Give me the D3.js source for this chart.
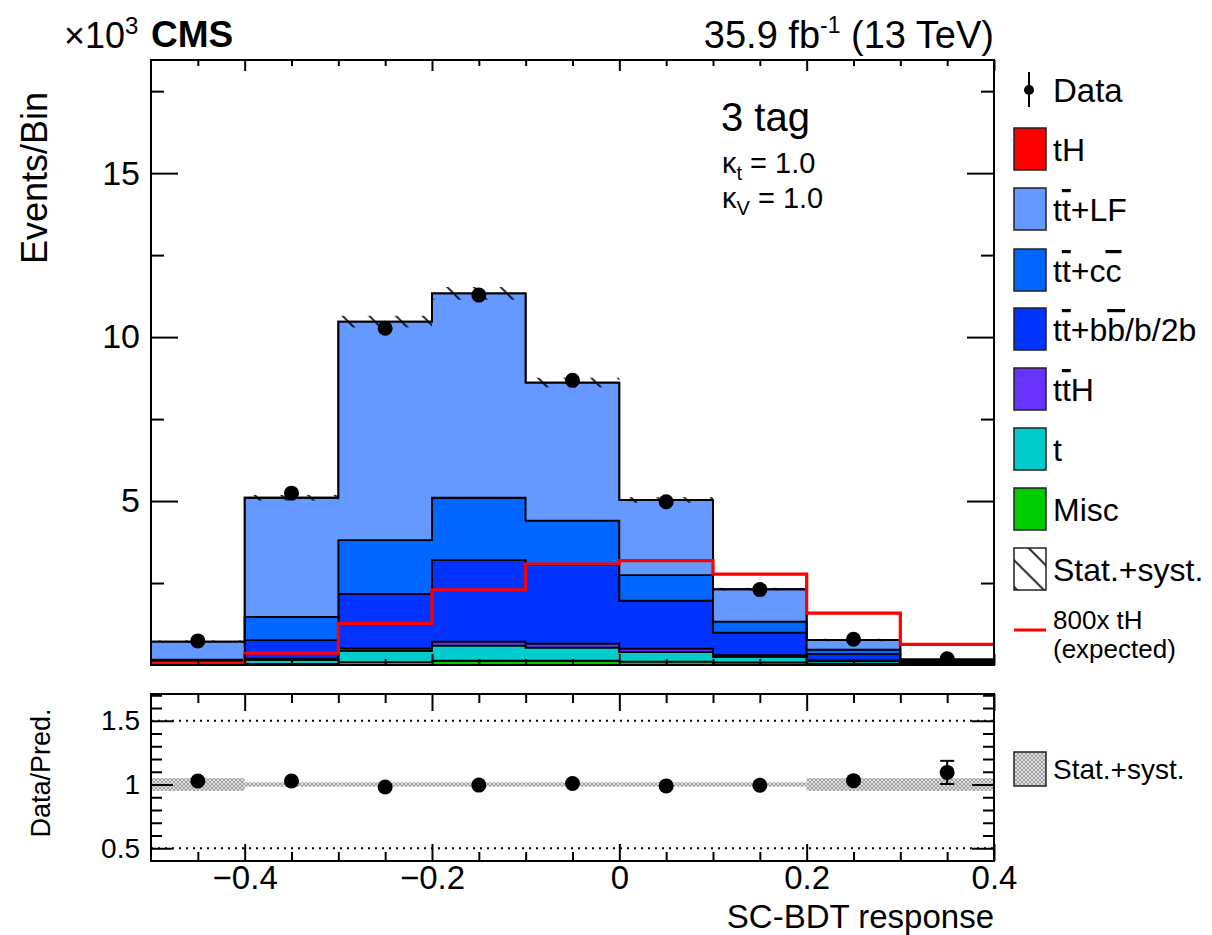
<!DOCTYPE html>
<html>
<head>
<meta charset="utf-8">
<script src="https://cdn.jsdelivr.net/npm/d3@7"></script>
<style>
  html, body { margin: 0; padding: 0; background: #fff; }
  svg { display: block; font-family: "Liberation Sans", Arial, Helvetica, sans-serif; }
</style>
</head>
<body>
<svg id="chart" width="1212" height="935"></svg>
<script>
// SC-BDT response, 3 tag category, events in units of 10^3 per bin
const binEdges = [-0.5, -0.4, -0.3, -0.2, -0.1, 0.0, 0.1, 0.2, 0.3, 0.4];

const misc   = [0.01, 0.03, 0.09, 0.13, 0.13, 0.10, 0.08, 0.04, 0.02];
const tChan  = [0.04, 0.13, 0.34, 0.46, 0.40, 0.29, 0.17, 0.08, 0.03];
const ttH    = [0.005, 0.03, 0.08, 0.12, 0.12, 0.11, 0.05, 0.02, 0.01];
const ttbb   = [0.06, 0.57, 1.66, 2.49, 2.40, 1.46, 0.69, 0.20, 0.05];
const ttcc   = [0.05, 0.71, 1.64, 1.90, 1.35, 0.78, 0.33, 0.13, 0.02];
const ttLF   = [0.55, 3.63, 6.66, 6.23, 4.21, 2.29, 0.99, 0.29, 0.04];
const tH     = [0.0001, 0.0005, 0.0016, 0.0029, 0.0039, 0.0040, 0.0035, 0.0020, 0.0008];

// tH signal scaled by 800 (expected)
const tHx800 = [0.055, 0.36, 1.27, 2.29, 3.08, 3.18, 2.77, 1.58, 0.63];

// observed data and its uncertainty
const dataVals = [0.735, 5.24, 10.27, 11.28, 8.68, 4.98, 2.30, 0.785, 0.187];
const dataErr  = [0.027, 0.072, 0.101, 0.106, 0.093, 0.071, 0.048, 0.028, 0.0155];

// relative stat.+syst. uncertainty of the prediction
const relUnc = [0.05, 0.017, 0.017, 0.017, 0.017, 0.017, 0.017, 0.05, 0.05];

const mainYTicks = [5, 10, 15];
const mainYMinor = [2.5, 7.5, 12.5, 17.5];
const xMajorTicks = [-0.4, -0.2, 0, 0.2, 0.4];
const xMinorTicks = [-0.45, -0.35, -0.3, -0.25, -0.15, -0.1, -0.05, 0.05, 0.1, 0.15, 0.25, 0.3, 0.35];
const ratioYTicks = [0.5, 1, 1.5];
const ratioYMinor = [0.6, 0.7, 0.8, 0.9, 1.1, 1.2, 1.3, 1.4, 1.6, 1.7];

const processes = [
  { key: "misc", vals: misc,  color: "#00cc00" },
  { key: "t",    vals: tChan, color: "#00cccc" },
  { key: "ttH",  vals: ttH,   color: "#6633ff" },
  { key: "ttbb", vals: ttbb,  color: "#0033ff" },
  { key: "ttcc", vals: ttcc,  color: "#0066ff" },
  { key: "ttLF", vals: ttLF,  color: "#6699ff" },
  { key: "tH",   vals: tH,    color: "#ff0000" }
];

const W = 1212, H = 935;
const L = 151, R = 994;
const mainTop = 60, mainBot = 665;
const ratTop = 694, ratBot = 861;
const dotR = 7.5;

const svg = d3.select("#chart");
svg.append("rect").attr("width", W).attr("height", H).attr("fill", "#fff");

const x = d3.scaleLinear().domain([-0.5, 0.4]).range([L, R]);
const y = d3.scaleLinear().domain([0, 18.45]).range([mainBot, mainTop]);
const yr = d3.scaleLinear().domain([0.4, 1.71]).range([ratBot, ratTop]);

const defs = svg.append("defs");
// single-direction hatching for the prediction band
const hs = 26.7;
defs.append("pattern").attr("id", "hatch").attr("patternUnits", "userSpaceOnUse")
  .attr("width", hs).attr("height", hs)
  .append("path")
  .attr("d", `M-3,-3L${hs + 3},${hs + 3}M-3,${hs - 3}L3,${hs + 3}M${hs - 3},-3L${hs + 3},3`)
  .attr("stroke", "#000").attr("stroke-width", 1.6);
// fine grey cross-hatch for the ratio band
const cp = defs.append("pattern").attr("id", "xhatch").attr("patternUnits", "userSpaceOnUse")
  .attr("width", 4).attr("height", 4);
cp.append("rect").attr("width", 4).attr("height", 4).attr("fill", "#dedede");
cp.append("path").attr("d", "M0,0L4,4M4,0L0,4").attr("stroke", "#909090").attr("stroke-width", 0.8);

defs.append("clipPath").attr("id", "clipMain").append("rect")
  .attr("x", L).attr("y", mainTop).attr("width", R - L).attr("height", mainBot - mainTop);
defs.append("clipPath").attr("id", "clipRatio").append("rect")
  .attr("x", L).attr("y", ratTop).attr("width", R - L).attr("height", ratBot - ratTop);

// ---------- stacked prediction ----------
const nBins = binEdges.length - 1;
const rows = d3.range(nBins).map(i => {
  const r = {};
  processes.forEach(p => r[p.key] = p.vals[i]);
  return r;
});
const stacked = d3.stack().keys(processes.map(p => p.key))(rows);
const totals = rows.map(r => d3.sum(processes, p => r[p.key]));

function stepPoints(layer) {
  const pts = layer.map((d, i) => ({ x: binEdges[i], y0: d[0], y1: d[1] }));
  const last = layer[layer.length - 1];
  pts.push({ x: binEdges[binEdges.length - 1], y0: last[0], y1: last[1] });
  return pts;
}

const area = d3.area()
  .x(d => x(d.x)).y0(d => y(d.y0)).y1(d => y(d.y1))
  .curve(d3.curveStepAfter);

const gMain = svg.append("g").attr("clip-path", "url(#clipMain)");
stacked.forEach((layer, k) => {
  gMain.append("path")
    .attr("d", area(stepPoints(layer)))
    .attr("fill", processes[k].color)
    .attr("stroke", "#000")
    .attr("stroke-width", 1.8)
    .attr("stroke-linejoin", "miter");
});

// prediction uncertainty band
gMain.selectAll("rect.unc").data(d3.range(nBins)).join("rect")
  .attr("class", "unc")
  .attr("x", i => x(binEdges[i]))
  .attr("width", i => x(binEdges[i + 1]) - x(binEdges[i]))
  .attr("y", i => y(totals[i] * (1 + relUnc[i])))
  .attr("height", i => y(totals[i] * (1 - relUnc[i])) - y(totals[i] * (1 + relUnc[i])))
  .attr("fill", "url(#hatch)");

// 800x tH expected
const sigPts = tHx800.map((v, i) => [binEdges[i], v]);
sigPts.push([binEdges[nBins], tHx800[nBins - 1]]);
gMain.append("path")
  .attr("d", d3.line().x(d => x(d[0])).y(d => y(d[1])).curve(d3.curveStepAfter)(sigPts))
  .attr("fill", "none").attr("stroke", "#ff0000").attr("stroke-width", 3.2);

// data points; error bars only where they reach beyond the marker
const centers = d3.range(nBins).map(i => (binEdges[i] + binEdges[i + 1]) / 2);
function drawPoint(g, cx, cy, top, bot, caps) {
  if (cy - top > dotR) {
    g.append("line").attr("x1", cx).attr("x2", cx).attr("y1", top).attr("y2", bot)
      .attr("stroke", "#000").attr("stroke-width", 2);
    if (caps) {
      [top, bot].forEach(yy => g.append("line")
        .attr("x1", cx - 7).attr("x2", cx + 7).attr("y1", yy).attr("y2", yy)
        .attr("stroke", "#000").attr("stroke-width", 2));
    }
  }
  g.append("circle").attr("cx", cx).attr("cy", cy).attr("r", dotR).attr("fill", "#000");
}
d3.range(nBins).forEach(i => {
  drawPoint(gMain, x(centers[i]), y(dataVals[i]),
    y(dataVals[i] + dataErr[i]), y(dataVals[i] - dataErr[i]), false);
});

// ---------- ratio panel ----------
const gRat = svg.append("g").attr("clip-path", "url(#clipRatio)");
gRat.selectAll("rect.rband").data(d3.range(nBins)).join("rect")
  .attr("x", i => x(binEdges[i]))
  .attr("width", i => x(binEdges[i + 1]) - x(binEdges[i]))
  .attr("y", i => yr(1 + relUnc[i]))
  .attr("height", i => yr(1 - relUnc[i]) - yr(1 + relUnc[i]))
  .attr("fill", "url(#xhatch)");

[0.5, 1.5].forEach(v => {
  gRat.append("line").attr("x1", L).attr("x2", R).attr("y1", yr(v)).attr("y2", yr(v))
    .attr("stroke", "#000").attr("stroke-width", 2).attr("stroke-dasharray", "2,5");
});

const ratio = d3.range(nBins).map(i => dataVals[i] / totals[i]);
const ratioErr = d3.range(nBins).map(i => dataErr[i] / totals[i]);
d3.range(nBins).forEach(i => {
  drawPoint(gRat, x(centers[i]), yr(ratio[i]),
    yr(ratio[i] + ratioErr[i]), yr(ratio[i] - ratioErr[i]), true);
});

// ---------- axes ----------
function styleAxis(g, fontSize) {
  g.select(".domain").remove();
  g.selectAll(".tick line").attr("stroke", "#000").attr("stroke-width", 2);
  g.selectAll(".tick text").attr("fill", "#000").attr("font-size", fontSize)
    .attr("font-family", "'Liberation Sans', Arial, Helvetica, sans-serif");
}
const noLabel = () => "";

// main panel
styleAxis(svg.append("g").attr("transform", `translate(${L},0)`)
  .call(d3.axisLeft(y).tickValues(mainYTicks).tickSize(-27).tickPadding(11).tickFormat(d3.format("d"))), 34);
styleAxis(svg.append("g").attr("transform", `translate(${L},0)`)
  .call(d3.axisLeft(y).tickValues(mainYMinor).tickSize(-13).tickFormat(noLabel)), 0);
styleAxis(svg.append("g").attr("transform", `translate(${R},0)`)
  .call(d3.axisRight(y).tickValues(mainYTicks).tickSize(-27).tickFormat(noLabel)), 0);
styleAxis(svg.append("g").attr("transform", `translate(${R},0)`)
  .call(d3.axisRight(y).tickValues(mainYMinor).tickSize(-13).tickFormat(noLabel)), 0);
styleAxis(svg.append("g").attr("transform", `translate(0,${mainTop})`)
  .call(d3.axisTop(x).tickValues(xMajorTicks).tickSize(-11).tickFormat(noLabel)), 0);
styleAxis(svg.append("g").attr("transform", `translate(0,${mainTop})`)
  .call(d3.axisTop(x).tickValues(xMinorTicks).tickSize(-6).tickFormat(noLabel)), 0);
styleAxis(svg.append("g").attr("transform", `translate(0,${mainBot})`)
  .call(d3.axisBottom(x).tickValues(xMajorTicks).tickSize(-11).tickFormat(noLabel)), 0);
styleAxis(svg.append("g").attr("transform", `translate(0,${mainBot})`)
  .call(d3.axisBottom(x).tickValues(xMinorTicks).tickSize(-6).tickFormat(noLabel)), 0);

// ratio panel
const xFmt = d => d === 0 ? "0" : d3.format(".1f")(d);
styleAxis(svg.append("g").attr("transform", `translate(${L},0)`)
  .call(d3.axisLeft(yr).tickValues(ratioYTicks).tickSize(-22).tickPadding(11).tickFormat(d => String(d))), 28);
styleAxis(svg.append("g").attr("transform", `translate(${L},0)`)
  .call(d3.axisLeft(yr).tickValues(ratioYMinor).tickSize(-11).tickFormat(noLabel)), 0);
styleAxis(svg.append("g").attr("transform", `translate(${R},0)`)
  .call(d3.axisRight(yr).tickValues(ratioYTicks).tickSize(-22).tickFormat(noLabel)), 0);
styleAxis(svg.append("g").attr("transform", `translate(${R},0)`)
  .call(d3.axisRight(yr).tickValues(ratioYMinor).tickSize(-11).tickFormat(noLabel)), 0);
styleAxis(svg.append("g").attr("transform", `translate(0,${ratTop})`)
  .call(d3.axisTop(x).tickValues(xMajorTicks).tickSize(-17).tickFormat(noLabel)), 0);
styleAxis(svg.append("g").attr("transform", `translate(0,${ratTop})`)
  .call(d3.axisTop(x).tickValues(xMinorTicks).tickSize(-9).tickFormat(noLabel)), 0);
styleAxis(svg.append("g").attr("transform", `translate(0,${ratBot})`)
  .call(d3.axisBottom(x).tickValues(xMajorTicks).tickSize(-17).tickPadding(5).tickFormat(xFmt)), 33);
styleAxis(svg.append("g").attr("transform", `translate(0,${ratBot})`)
  .call(d3.axisBottom(x).tickValues(xMinorTicks).tickSize(-9).tickFormat(noLabel)), 0);

// frames
svg.append("rect").attr("x", L).attr("y", mainTop).attr("width", R - L).attr("height", mainBot - mainTop)
  .attr("fill", "none").attr("stroke", "#000").attr("stroke-width", 2);
svg.append("rect").attr("x", L).attr("y", ratTop).attr("width", R - L).attr("height", ratBot - ratTop)
  .attr("fill", "none").attr("stroke", "#000").attr("stroke-width", 2);

// ---------- titles and labels ----------
svg.append("text").attr("transform", "translate(47,178) rotate(-90)")
  .attr("text-anchor", "middle").attr("font-size", 36).text("Events/Bin");
svg.append("text").attr("transform", "translate(50,773) rotate(-90)")
  .attr("text-anchor", "middle").attr("font-size", 27).text("Data/Pred.");
svg.append("text").attr("x", R).attr("y", 928).attr("text-anchor", "end")
  .attr("font-size", 33).text("SC-BDT response");

const mult = svg.append("text").attr("x", 64).attr("y", 48).attr("font-size", 36);
mult.append("tspan").text("\u00d710");
mult.append("tspan").attr("dy", -14).attr("font-size", 24).text("3");

svg.append("text").attr("x", 151).attr("y", 47).attr("font-size", 37)
  .attr("font-weight", "bold").text("CMS");

const lumi = svg.append("text").attr("x", R).attr("y", 48).attr("text-anchor", "end").attr("font-size", 38);
lumi.append("tspan").text("35.9 fb");
lumi.append("tspan").attr("dy", -15).attr("font-size", 23).text("-1");
lumi.append("tspan").attr("dy", 15).text(" (13 TeV)");

svg.append("text").attr("x", 721).attr("y", 131).attr("font-size", 40).text("3 tag");
function kappa(yb, sub) {
  const t = svg.append("text").attr("x", 722).attr("y", yb).attr("font-size", 29);
  t.append("tspan").text("\u03ba");
  t.append("tspan").attr("dy", 7).attr("font-size", 20).text(sub);
  t.append("tspan").attr("dy", -7).text(" = 1.0");
}
kappa(173, "t");
kappa(208, "V");

// ---------- legend ----------
const lgX = 1014, lgW = 32, lgH = 42, txtX = 1053;
const lg = svg.append("g");

// data marker
lg.append("line").attr("x1", 1029).attr("x2", 1029).attr("y1", 72).attr("y2", 107)
  .attr("stroke", "#000").attr("stroke-width", 2);
lg.append("circle").attr("cx", 1029).attr("cy", 90).attr("r", 5).attr("fill", "#000");
lg.append("text").attr("x", txtX).attr("y", 102).attr("font-size", 33).text("Data");

// legend labels with overlines on anti-quarks
function ovl(t, s) { t.append("tspan").attr("text-decoration", "overline").text(s); }
const legendItems = [
  { cy: 149, color: "#ff0000", build: t => t.text("tH") },
  { cy: 209, color: "#6699ff", build: t => { t.append("tspan").text("t"); ovl(t, "t"); t.append("tspan").text("+LF"); } },
  { cy: 270, color: "#0066ff", build: t => { t.append("tspan").text("t"); ovl(t, "t"); t.append("tspan").text("+c"); ovl(t, "c"); } },
  { cy: 329, color: "#0033ff", build: t => { t.append("tspan").text("t"); ovl(t, "t"); t.append("tspan").text("+b"); ovl(t, "b"); t.append("tspan").text("/b/2b"); } },
  { cy: 389, color: "#6633ff", build: t => { t.append("tspan").text("t"); ovl(t, "t"); t.append("tspan").text("H"); } },
  { cy: 449, color: "#00cccc", build: t => t.text("t") },
  { cy: 509, color: "#00cc00", build: t => t.text("Misc") },
  { cy: 569, color: "url(#hatch)", build: t => t.text("Stat.+syst."), white: true }
];
legendItems.forEach(it => {
  if (it.white) {
    lg.append("rect").attr("x", lgX).attr("y", it.cy - lgH / 2).attr("width", lgW).attr("height", lgH).attr("fill", "#fff");
  }
  lg.append("rect").attr("x", lgX).attr("y", it.cy - lgH / 2).attr("width", lgW).attr("height", lgH)
    .attr("fill", it.color).attr("stroke", "#222").attr("stroke-width", 1.5);
  const t = lg.append("text").attr("x", txtX).attr("y", it.cy + 12).attr("font-size", 32);
  it.build(t);
});

lg.append("line").attr("x1", 1014).attr("x2", 1046).attr("y1", 630).attr("y2", 630)
  .attr("stroke", "#ff0000").attr("stroke-width", 3);
lg.append("text").attr("x", txtX).attr("y", 629).attr("font-size", 26).text("800x tH");
lg.append("text").attr("x", txtX).attr("y", 658).attr("font-size", 26).text("(expected)");

// ratio legend
lg.append("rect").attr("x", lgX).attr("y", 752).attr("width", lgW).attr("height", 34)
  .attr("fill", "url(#xhatch)").attr("stroke", "#222").attr("stroke-width", 1.5);
lg.append("text").attr("x", txtX).attr("y", 779).attr("font-size", 28).text("Stat.+syst.");
</script>
</body>
</html>
